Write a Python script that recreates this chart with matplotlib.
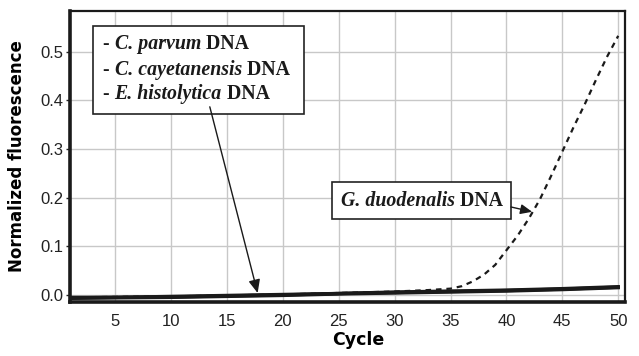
import matplotlib
matplotlib.use("Agg")
import matplotlib.pyplot as plt
from matplotlib.patches import Rectangle

# Data
base_cycles = [1, 5, 10, 15, 20, 25, 30, 35, 40, 45, 50]
c_parvum = [-0.006, -0.005, -0.004, -0.002, 0.000, 0.003, 0.005, 0.007, 0.009, 0.012, 0.016]
c_cayetanensis = [-0.005, -0.005, -0.003, -0.001, 0.001, 0.003, 0.006, 0.008, 0.010, 0.013, 0.017]
e_histolytica = [-0.007, -0.006, -0.005, -0.003, -0.001, 0.002, 0.004, 0.006, 0.008, 0.011, 0.015]

g_cycles = [1, 5, 10, 15, 20, 25, 30, 33, 35, 36, 37, 38, 39, 40, 41, 42, 43, 44, 45, 46, 47, 48, 49, 50]
g_duodenalis = [-0.005, -0.004, -0.003, -0.001, 0.001, 0.004, 0.007, 0.010, 0.013, 0.018, 0.028,
                0.042, 0.062, 0.092, 0.122, 0.157, 0.197, 0.245, 0.295, 0.345, 0.392, 0.442, 0.490, 0.533]

x_ticks = [5, 10, 15, 20, 25, 30, 35, 40, 45, 50]
y_ticks = [0.0, 0.1, 0.2, 0.3, 0.4, 0.5]

species_box = ["C. parvum", "C. cayetanensis", "E. histolytica"]
species_g = "G. duodenalis"

fig = plt.figure(figsize=(6.39, 3.56), dpi=100)
ax = fig.add_axes([0.1095, 0.1517, 0.978 - 0.1095, 0.969 - 0.1517])

ax.grid(True, color='#c8c8c8', lw=1.0, zorder=0)
ax.set_axisbelow(True)

for vals in (c_parvum, c_cayetanensis, e_histolytica):
    ax.plot(base_cycles, vals, color='#1a1a1a', lw=2.4, zorder=3)
ax.plot(g_cycles, g_duodenalis, color='#1a1a1a', lw=1.6, ls=(0, (2.5, 2.2)), zorder=4)

ax.set_xlim(0.95, 50.6)
ax.set_ylim(-0.0145, 0.584)
ax.set_xticks(x_ticks)
ax.set_yticks(y_ticks)
ax.set_yticklabels([f"{v:.1f}" for v in y_ticks])
for lab in ax.get_xticklabels() + ax.get_yticklabels():
    lab.set_fontfamily('Liberation Sans')
    lab.set_fontsize(12)
    lab.set_color('#222222')
ax.tick_params(axis='y', length=3, width=1, color='#222222', pad=2)
ax.tick_params(axis='x', length=0, pad=9)

for s in ('left', 'bottom'):
    ax.spines[s].set_linewidth(2.6)
for s in ('top', 'right'):
    ax.spines[s].set_linewidth(1.6)
for s in ax.spines.values():
    s.set_color('#1a1a1a')

ax.set_xlabel('Cycle', fontsize=12.5, fontweight='bold', fontfamily='DejaVu Sans')
ax.set_ylabel('Normalized fluorescence', fontsize=12, fontweight='bold', fontfamily='DejaVu Sans')
ax.xaxis.set_label_coords(0.52, -0.1)
ax.yaxis.set_label_coords(-0.079, 0.5)

SERIF = 'Liberation Serif'
FS = 14.3


def mixed_line(x, y, species, dash=True):
    if dash:
        t0 = ax.text(x, y, "- ", fontsize=FS, fontfamily=SERIF, fontweight='bold', va='center',
                     ha='left', zorder=7, color='#1a1a1a')
        t1 = ax.annotate(species, xy=(1, 0), xycoords=t0, va='bottom', ha='left', fontsize=FS,
                         fontfamily=SERIF, fontweight='bold', fontstyle='italic', zorder=7, color='#1a1a1a')
    else:
        t1 = ax.text(x, y, species, fontsize=FS, fontfamily=SERIF, fontweight='bold',
                     fontstyle='italic', va='center', ha='left', zorder=7, color='#1a1a1a')
    t2 = ax.annotate(" DNA", xy=(1, 0), xycoords=t1, va='bottom', ha='left', fontsize=FS,
                     fontfamily=SERIF, fontweight='bold', zorder=7, color='#1a1a1a')
    return t2


# Legend-like box
ax.add_patch(Rectangle((3.0, 0.372), 18.9, 0.181, facecolor='white', edgecolor='#222222', lw=1.2, zorder=6))
for sp, yy in zip(species_box, [0.516, 0.463, 0.413]):
    mixed_line(3.9, yy, sp)
ax.annotate('', xy=(17.74, 0.004), xytext=(13.46, 0.387),
            arrowprops=dict(arrowstyle='-|>,head_length=0.8,head_width=0.35', color='#1a1a1a', lw=1.0,
                            shrinkA=0, shrinkB=0),
            zorder=7)

ax.add_patch(Rectangle((24.4, 0.156), 16.0, 0.076, facecolor='white', edgecolor='#222222', lw=1.2, zorder=6))
mixed_line(25.2, 0.194, species_g, dash=False)
ax.annotate('', xy=(42.3, 0.171), xytext=(40.4, 0.181),
            arrowprops=dict(arrowstyle='-|>,head_length=0.7,head_width=0.3', color='#1a1a1a', lw=1.0,
                            shrinkA=0, shrinkB=0),
            zorder=7)

fig.savefig('out.png', dpi=100)
